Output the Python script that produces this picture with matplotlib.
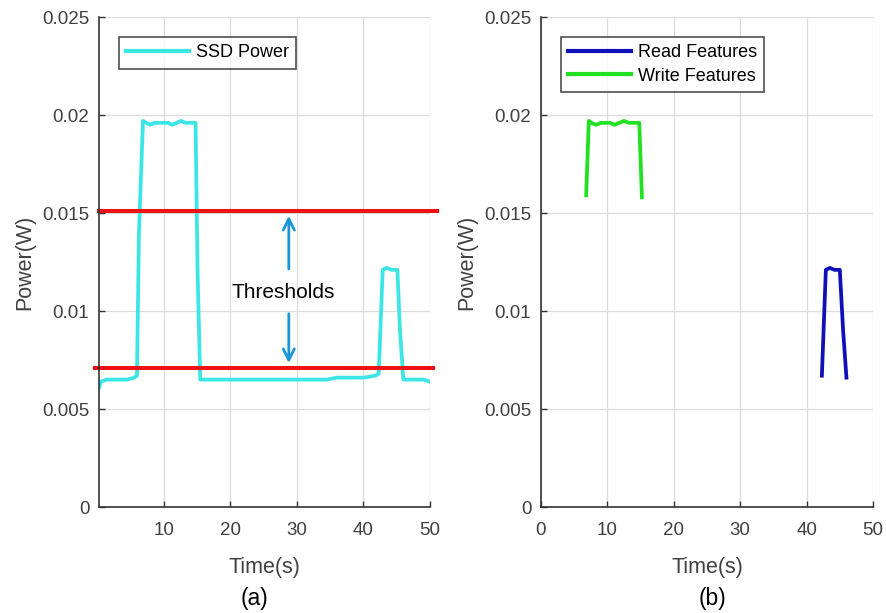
import matplotlib
matplotlib.use("Agg")
import matplotlib.pyplot as plt
from matplotlib.ticker import FixedLocator, FixedFormatter

plt.rcParams['font.family'] = ['Liberation Sans', 'DejaVu Sans']

# ---- data ----
ssd_time = [0.3, 0.6, 1.5, 3.0, 4.5, 5.6, 6.0, 6.3, 6.9, 7.4, 8.0, 8.6, 9.3, 10.0,
            10.7, 11.3, 12.0, 12.6, 13.3, 14.0, 14.8, 15.1, 15.5, 17.0, 20.0, 23.0,
            26.0, 29.0, 32.0, 34.5, 36.0, 38.0, 40.0, 41.8, 42.3, 42.9, 43.5,
            44.2, 45.1, 45.5, 46.0, 47.5, 49.0, 50.0]
ssd_power = [0.0061, 0.0064, 0.0065, 0.0065, 0.0065, 0.0066, 0.0067, 0.0140,
             0.0197, 0.0196, 0.0195, 0.0196, 0.0196, 0.0196, 0.0196, 0.0195,
             0.0196, 0.0197, 0.0196, 0.0196, 0.0196, 0.0120, 0.0065, 0.0065,
             0.0065, 0.0065, 0.0065, 0.0065, 0.0065, 0.0065, 0.0066, 0.0066,
             0.0066, 0.0067, 0.0068, 0.0121, 0.0122, 0.0121, 0.0121, 0.0090,
             0.0065, 0.0065, 0.0065, 0.0064]

thresholds = [0.0151, 0.0071]

write_time = [6.8, 7.2, 7.6, 8.3, 9.0, 9.7, 10.4, 11.1, 11.8, 12.5, 13.2, 14.0, 14.8, 15.2]
write_power = [0.0159, 0.0197, 0.0196, 0.0195, 0.0196, 0.0196, 0.0196, 0.0195,
               0.0196, 0.0197, 0.0196, 0.0196, 0.0196, 0.0158]

read_time = [42.3, 42.9, 43.5, 44.2, 45.0, 45.5, 46.0]
read_power = [0.0067, 0.0121, 0.0122, 0.0121, 0.0121, 0.0090, 0.0066]

yticks = [0, 0.005, 0.01, 0.015, 0.02, 0.025]
ytick_labels = ['0', '0.005', '0.01', '0.015', '0.02', '0.025']
xticks_a = [10, 20, 30, 40, 50]
xticks_b = [0, 10, 20, 30, 40, 50]

# ---- figure ----
fig = plt.figure(figsize=(8.86, 6.13), dpi=100)
ax1 = fig.add_axes([99/886, 1-507/613, 331/886, 490/613])
ax2 = fig.add_axes([541/886, 1-507/613, 332/886, 490/613])

cyan = '#3de6e6'
green = '#22e022'
blue = '#1010b8'
red = '#ee1111'
arrow_col = '#1a96d8'
spine_col = '#333333'
tick_col = '#404040'

def style(ax, xticks):
    ax.set_ylim(0, 0.025)
    ax.yaxis.set_major_locator(FixedLocator(yticks))
    ax.yaxis.set_major_formatter(FixedFormatter(ytick_labels))
    ax.set_xticks(xticks)
    ax.set_xticklabels([str(t) for t in xticks])
    ax.grid(True, color='#dcdcdc', linewidth=0.9)
    ax.set_axisbelow(True)
    for s in ['top', 'right']:
        ax.spines[s].set_visible(False)
    for s in ['left', 'bottom']:
        ax.spines[s].set_color(spine_col)
        ax.spines[s].set_linewidth(1.2)
    ax.tick_params(direction='in', length=4, width=1.0, color=spine_col,
                   labelsize=13.5, labelcolor=tick_col)
    ax.tick_params(axis='x', pad=11)
    ax.tick_params(axis='y', pad=7)
    ax.set_xlabel('Time(s)', fontsize=15.5, color=tick_col, labelpad=13)
    ax.set_ylabel('Power(W)', fontsize=15.5, color=tick_col, labelpad=5)

# (a)
ax1.plot(ssd_time, ssd_power, color=cyan, linewidth=2.7, label='SSD Power')
ax1.set_xlim(0.3, 50)
style(ax1, xticks_a)
ax1.plot([0.3, 51.1], [thresholds[0]] * 2, color=red, linewidth=2.9, clip_on=False)
ax1.plot([-0.3, 50.5], [thresholds[1]] * 2, color=red, linewidth=2.9, clip_on=False)
ax1.annotate('', xy=(28.8, thresholds[0] - 0.0001), xytext=(28.8, 0.0120),
             arrowprops=dict(arrowstyle='->', color=arrow_col, lw=2, mutation_scale=20))
ax1.annotate('', xy=(28.8, thresholds[1] + 0.0001), xytext=(28.8, 0.0100),
             arrowprops=dict(arrowstyle='->', color=arrow_col, lw=2, mutation_scale=20))
ax1.text(28.0, 0.01095, 'Thresholds', ha='center', va='center', fontsize=15, color='black')
leg1 = ax1.legend(loc='upper left', bbox_to_anchor=(0.06, 0.959), fontsize=13,
                  handlelength=3.5, fancybox=False, edgecolor='#222222',
                  borderpad=0.4, handletextpad=0.35, borderaxespad=0.0)
leg1.get_frame().set_linewidth(1.2)
for l in leg1.get_lines():
    l.set_linewidth(3)

# (b)
ax2.plot(read_time, read_power, color=blue, linewidth=2.7, label='Read Features')
ax2.plot(write_time, write_power, color=green, linewidth=2.7, label='Write Features')
ax2.set_xlim(0, 50)
style(ax2, xticks_b)
leg2 = ax2.legend(loc='upper left', bbox_to_anchor=(0.06, 0.959), fontsize=13,
                  handlelength=3.5, fancybox=False, edgecolor='#222222',
                  borderpad=0.4, handletextpad=0.35, borderaxespad=0.0,
                  labelspacing=0.35)
leg2.get_frame().set_linewidth(1.2)
for l in leg2.get_lines():
    l.set_linewidth(3)

fig.text(255/886, 1-598/613, '(a)', ha='center', va='center', fontsize=16.5, color='black')
fig.text(713/886, 1-598/613, '(b)', ha='center', va='center', fontsize=16.5, color='black')

fig.savefig('out.png', dpi=100, facecolor='white')
